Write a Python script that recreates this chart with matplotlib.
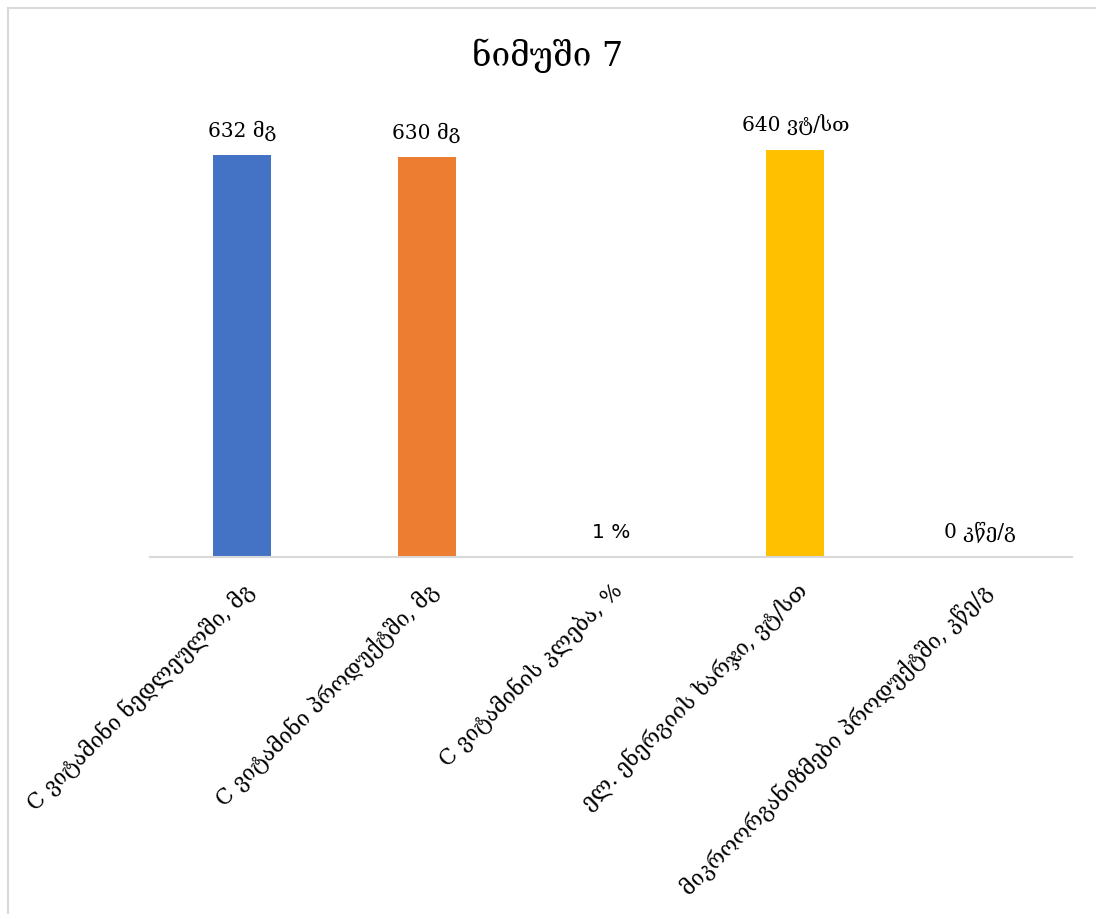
import matplotlib
matplotlib.use("Agg")
import matplotlib.pyplot as plt
from matplotlib.lines import Line2D

# chart data
title = "ნიმუში 7"
categories = ["C ვიტამინი ნედლეულში, მგ",
              "C ვიტამინი პროდუქტში, მგ",
              "C ვიტამინის კლება, %",
              "ელ. ენერგიის ხარჯი, ვტ/სთ",
              "მიკროორგანიზმები პროდუქტში, კწე/გ"]
values = [632, 630, 1, 640, 0]
value_labels = ["632 მგ", "630 მგ", "1 %", "640 ვტ/სთ", "0 კწე/გ"]
colors = ["#4472C4", "#ED7D31", "#A5A5A5", "#FFC000", "#5B9BD5"]

plt.rcParams['font.family'] = ['DejaVu Serif', 'DejaVu Sans']

fig = plt.figure(figsize=(10.96, 9.14), dpi=100)
ax = fig.add_axes([150/1096, 1 - 557/914, 922/1096, 445/914])

x = range(len(values))
ax.bar(x, values, width=0.315, color=colors)
ax.set_xlim(-0.5, len(values) - 0.5)
ax.set_ylim(0, 700)

for i, v in enumerate(values):
    fam = ['DejaVu Sans'] if value_labels[i] == "1 %" else ['DejaVu Serif', 'DejaVu Sans']
    ax.annotate(value_labels[i], (i, v), xytext=(0, 10), textcoords="offset points",
                ha="center", va="bottom", fontsize=14.5, family=fam)

ax.set_xticks(list(x))
ax.set_xticklabels(categories, rotation=45, ha="right", va="top",
                   rotation_mode="anchor", fontsize=15.5)
ax.tick_params(axis="x", length=0, pad=16)
ax.set_yticks([])
for s in ["top", "right", "left"]:
    ax.spines[s].set_visible(False)
ax.spines["bottom"].set_color("#D9D9D9")
ax.spines["bottom"].set_linewidth(1.5)

fig.text(0.5, 1 - 56/914, title, ha="center", va="center", fontsize=24)

# outer chart border (left and top visible)
fig.add_artist(Line2D([8/1096, 8/1096], [0, 1 - 8/914], transform=fig.transFigure, color="#D9D9D9", lw=1.5))
fig.add_artist(Line2D([8/1096, 1], [1 - 8/914, 1 - 8/914], transform=fig.transFigure, color="#D9D9D9", lw=1.5))

fig.savefig("out.png", dpi=100)
